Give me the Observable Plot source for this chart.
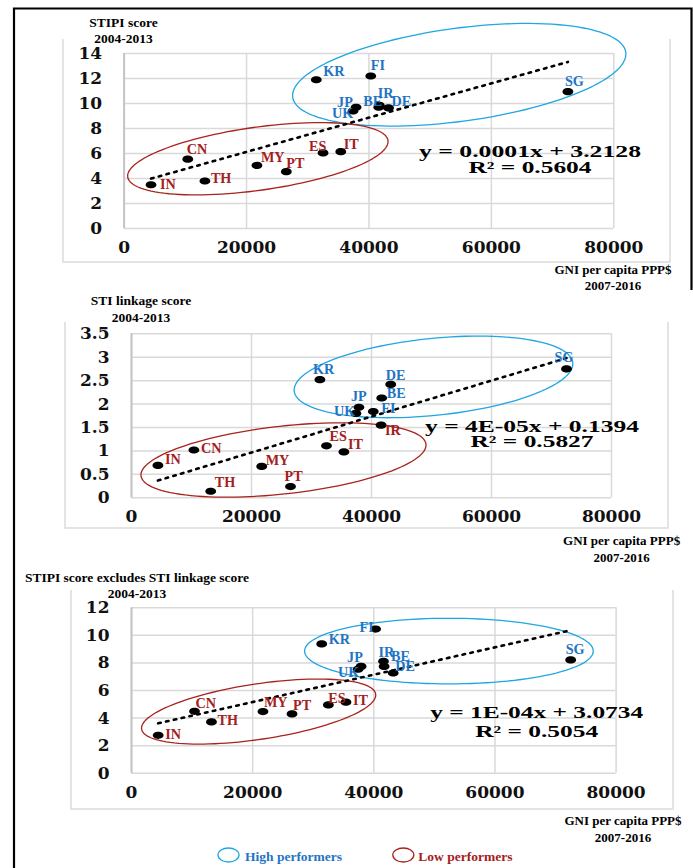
<!DOCTYPE html>
<html>
<head>
<meta charset="utf-8">
<script src="https://cdn.jsdelivr.net/npm/d3@7"></script>
<script src="https://cdn.jsdelivr.net/npm/@observablehq/plot@0.6"></script>
<style>
  html, body { margin: 0; padding: 0; background: #fff; }
  #fig { position: relative; width: 693px; height: 868px; overflow: hidden; background: #fff; }
  .panel { position: absolute; left: 0; }
  #overlay { position: absolute; left: 0; top: 0; pointer-events: none; }
</style>
</head>
<body>
<div id="fig"></div>
<script>
// ---------------- data ----------------
const countries = ["IN","CN","TH","MY","PT","ES","IT","KR","FI","JP","UK","BE","IR","DE","SG"];
const gniPerCapita = [4400,10400,13200,21700,26500,32500,35400,31400,40300,37900,37400,41700,41600,43200,72500];
const stipiScore = [3.5,5.55,3.8,5.05,4.55,6.05,6.15,11.9,12.2,9.7,9.4,9.85,9.7,9.65,10.95];
const linkageScore = [0.69,1.02,0.14,0.67,0.24,1.11,0.98,2.52,1.84,1.93,1.80,2.13,1.55,2.42,2.75];
const exclLinkageScore = [2.75,4.49,3.72,4.47,4.30,4.95,5.15,9.38,10.46,7.75,7.54,7.75,8.12,7.27,8.22];
const groupStipi = ["L","L","L","L","L","L","L","H","H","H","H","H","H","H","H"];
const groupLinkage = ["L","L","L","L","L","L","L","H","H","H","H","H","L","H","H"];
const groupExcl = ["L","L","L","L","L","L","L","H","H","H","H","H","H","H","H"];
const xTicks = [0,20000,40000,60000,80000];
const yTicksStipi = [0,2,4,6,8,10,12,14];
const yTicksLinkage = [0,0.5,1,1.5,2,2.5,3,3.5];
const yTicksExcl = [0,2,4,6,8,10,12];
const yTitles = [["STIPI score","2004-2013"],["STI linkage score","2004-2013"],["STIPI score excludes STI linkage score","2004-2013"]];
const xTitle = ["GNI per capita PPP$","2007-2016"];
const equations = [["y = 0.0001x + 3.2128","R² = 0.5604"],["y = 4E-05x + 0.1394","R² = 0.5827"],["y = 1E-04x + 3.0734","R² = 0.5054"]];
const legendLabels = ["High performers","Low performers"];
// performer ellipses: centre and two conjugate semi-axes, in data units
const ellipsesStipi = [{c:[54750,12.3],u:[27210,1.8],v:[1016,-3.69],g:"H"},{c:[21850,5.58],u:[21260,1.46],v:[720,-2.5],g:"L"}];
const ellipsesLinkage = [{c:[50330,2.58],u:[23220,0.303],v:[650,-0.817],g:"H"},{c:[25330,0.807],u:[23750,0.337],v:[617,-0.719],g:"L"}];
const ellipsesExcl = [{c:[52400,8.86],u:[23830,0],v:[0,-2.38],g:"H"},{c:[20990,4.47],u:[19320,1.27],v:[678,-1.99],g:"L"}];

// ---------------- styles ----------------
const labelNudge = [
  [[9,0],[-1,-10],[6,-3],[4,-8],[0,-8],[-14,-6],[3,-7],[7,-8],[0,-11],[-19,-5],[-21,2],[-16,-4],[-1,-14],[3,-6],[-3,-10]],
  [[7,-6],[7,-2],[4,-9],[4,-6],[-6,-10],[3,-9],[4,-7],[-7,-10],[8,-3],[-8,-11],[-22,-2],[5,-5],[4,5],[-5,-9],[-12,-11]],
  [[7,-1],[1,-8],[6,-1],[1,-9],[1,-8],[0,-7],[7,-2],[7,-4],[-16,-2],[-14,-9],[-20,3],[7,-10],[-5,-9],[2,-7],[-5,-10]]
];
const textColor = {H:"#1f74c4", L:"#a3201d"};
const ellColor = {H:"#1fa6e3", L:"#a8231c"};
const gridColor = "#d9d9d9";
const tickFont = "DejaVu Serif";
const labelFont = "Liberation Serif";

const ellipseSymbol = {
  draw(ctx) {
    const rx = 5.4, ry = 3.6, k = 0.5523;
    ctx.moveTo(rx, 0);
    ctx.bezierCurveTo(rx, ry*k, rx*k, ry, 0, ry);
    ctx.bezierCurveTo(-rx*k, ry, -rx, ry*k, -rx, 0);
    ctx.bezierCurveTo(-rx, -ry*k, -rx*k, -ry, 0, -ry);
    ctx.bezierCurveTo(rx*k, -ry, rx, -ry*k, rx, 0);
    ctx.closePath();
  }
};

function ellipseOutline(e) {
  const pts = [];
  const n = 120;
  for (let i = 0; i < n; i++) {
    const t = 2 * Math.PI * i / n;
    pts.push({x: e.c[0] + Math.cos(t)*e.u[0] + Math.sin(t)*e.v[0],
              y: e.c[1] + Math.cos(t)*e.u[1] + Math.sin(t)*e.v[1]});
  }
  return pts;
}

function makeChart(o) {
  const rows = countries.map((c, i) => ({country: c, gni: gniPerCapita[i], v: o.values[i], group: o.groups[i]}));
  const marks = [
    Plot.gridY({ticks: o.yTicks, stroke: gridColor, strokeOpacity: 1, strokeWidth: 1.5}),
    Plot.gridX({ticks: xTicks, stroke: gridColor, strokeOpacity: 1, strokeWidth: 1.5}),
    Plot.ruleX([0], {stroke: "#c4c4c4", strokeWidth: 2}),
    Plot.axisY({ticks: o.yTicks, tickSize: 0, tickPadding: 22, tickFormat: d => String(d),
      fontFamily: tickFont, fontWeight: "bold", fontSize: 17, fill: "#111", label: null}),
    Plot.axisX({ticks: xTicks, tickSize: 0, tickPadding: 12.5, tickFormat: d => String(d),
      fontFamily: tickFont, fontWeight: "bold", fontSize: 17, fill: "#111", label: null}),
    ...o.ellipses.map(e => Plot.line(ellipseOutline(e), {x: "x", y: "y", curve: "linear-closed",
      stroke: ellColor[e.g], strokeWidth: 1.3})),
    Plot.linearRegressionY(rows, {x: "gni", y: "v", ci: 0, stroke: "#000", strokeWidth: 2.6, strokeDasharray: "2.6,5.4"}),
    Plot.dot(rows, {x: "gni", y: "v", fill: "#000", symbol: ellipseSymbol, r: 5}),
    ...rows.map((r, i) => Plot.text([r], {x: "gni", y: "v", text: "country",
      dx: o.nudge[i][0], dy: o.nudge[i][1], textAnchor: "start", lineAnchor: "middle",
      fill: textColor[r.group], fontFamily: labelFont, fontWeight: "bold", fontSize: 14.2}))
  ];
  const svg = Plot.plot({
    width: 693, height: o.height,
    marginLeft: o.m[0], marginRight: o.m[1], marginTop: o.m[2], marginBottom: o.m[3],
    x: {domain: [0, 80000]},
    y: {domain: o.yDomain},
    style: {background: "none", overflow: "visible"},
    marks
  });
  const wrap = document.createElement("div");
  wrap.className = "panel";
  wrap.style.top = o.top + "px";
  wrap.appendChild(svg);
  document.getElementById("fig").appendChild(wrap);
}

makeChart({values: stipiScore, groups: groupStipi, yTicks: yTicksStipi, yDomain: [0,14], ellipses: ellipsesStipi,
  nudge: labelNudge[0], top: 0, height: 290, m: [123.6, 79.7, 53, 62]});
makeChart({values: linkageScore, groups: groupLinkage, yTicks: yTicksLinkage, yDomain: [0,3.5], ellipses: ellipsesLinkage,
  nudge: labelNudge[1], top: 290, height: 280, m: [131, 82, 43.3, 72.7]});
makeChart({values: exclLinkageScore, groups: groupExcl, yTicks: yTicksExcl, yDomain: [0,12], ellipses: ellipsesExcl,
  nudge: labelNudge[2], top: 570, height: 298, m: [131, 77.4, 37.3, 95.3]});

// ---------------- overlay: frames, titles, equations, legend ----------------
const ov = d3.create("svg").attr("id", "overlay").attr("width", 693).attr("height", 868);
// figure border
ov.append("path").attr("d", "M14,868V8.5H691.5V290").attr("fill", "none").attr("stroke", "#000").attr("stroke-width", 2.2);
// chart-area frames
[[63,39,670,262],[65,322,668,528],[71,590,673,809]].forEach(([x0,y0,x1,y1]) => {
  ov.append("path").attr("d", `M${x0},${y0}V${y1}H${x1}V${y0}`).attr("fill", "none")
    .attr("stroke", "#dcdcdc").attr("stroke-width", 1.5);
});
function txt(s, x, y, opt = {}) {
  const t = ov.append("text").attr("x", x).attr("y", y).text(s)
    .attr("font-family", opt.family || labelFont).attr("font-weight", "bold")
    .attr("font-size", opt.size || 13.5).attr("fill", opt.fill || "#000")
    .attr("text-anchor", opt.anchor || "middle");
  if (opt.len) t.attr("textLength", opt.len).attr("lengthAdjust", "spacingAndGlyphs");
  return t;
}
// y titles
[[123.5,27,43],[141,305,322],[137,582,598]].forEach(([x,b1,b2], i) => {
  txt(yTitles[i][0], x, b1);
  txt(yTitles[i][1], x, b2);
});
// x titles
[[613,274,290],[621.6,545,562],[623,825,842]].forEach(([x,b1,b2]) => {
  txt(xTitle[0], x, b1, {size: 13});
  txt(xTitle[1], x, b2, {size: 13});
});
// equations
[[530,157,173,222],[532,432,447,214],[536.7,718,737,213]].forEach(([x,b1,b2,w], i) => {
  txt(equations[i][0], x, b1, {size: 16.5, len: w});
  txt(equations[i][1], x, b2, {size: 16.5, len: 123});
});
// legend
ov.append("ellipse").attr("cx", 228.5).attr("cy", 855).attr("rx", 10.5).attr("ry", 7)
  .attr("fill", "none").attr("stroke", ellColor.H).attr("stroke-width", 1.3);
ov.append("ellipse").attr("cx", 403.3).attr("cy", 855).attr("rx", 10.5).attr("ry", 7)
  .attr("fill", "none").attr("stroke", ellColor.L).attr("stroke-width", 1.3);
txt(legendLabels[0], 245, 861, {anchor: "start", fill: textColor.H});
txt(legendLabels[1], 418.3, 861, {anchor: "start", fill: textColor.L});
document.getElementById("fig").appendChild(ov.node());
</script>
</body>
</html>
